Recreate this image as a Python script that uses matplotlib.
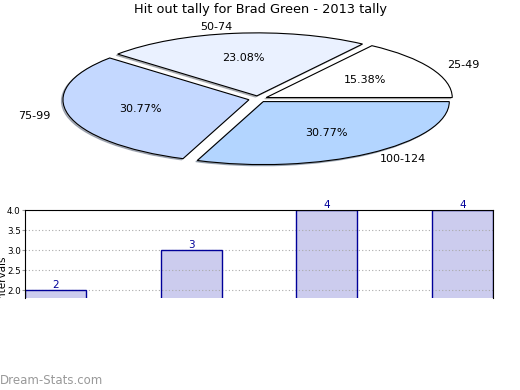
import matplotlib
matplotlib.use("Agg")
import matplotlib.pyplot as plt
from matplotlib.transforms import Bbox

title = "Hit out tally for Brad Green - 2013 tally"
intervals = ["25-49", "50-74", "75-99", "100-124"]
tally = [2, 3, 4, 4]
pie_colors = ["#ffffff", "#eaf1ff", "#c4d8ff", "#b3d5ff"]

W, H = 520, 390
fig = plt.figure(figsize=(W / 100, H / 100), dpi=100)

# pie: squashed ellipse, centre (258, 99) px, rx 186, ry 63
cx, cy, rx, ry = 258, 99, 186, 63
span = 1.4
ax_pie = fig.add_axes([
    (cx - rx * span) / W,
    1 - (cy + ry * span) / H,
    2 * rx * span / W,
    2 * ry * span / H,
])
wedges, texts, autotexts = ax_pie.pie(
    tally,
    labels=intervals,
    colors=pie_colors,
    explode=[0.05] * len(tally),
    autopct="%1.2f%%",
    pctdistance=0.6,
    labeldistance=1.1,
    startangle=0,
    shadow={"ox": -0.006, "oy": -0.014, "shade": 0.5},
    wedgeprops={"edgecolor": "black", "linewidth": 0.8},
    textprops={"fontsize": 8},
)
ax_pie.set_aspect("auto")
ax_pie.set_xlim(-span, span)
ax_pie.set_ylim(-span, span)
ax_pie.axis("off")

fig.text(0.5, 1 - 10 / H, title, ha="center", va="center", fontsize=9.3)

# bar chart, cut off at the bottom
ax_bar = fig.add_axes([25 / W, 1 - 298 / H, 468 / W, 88 / H])
x = range(len(tally))
ax_bar.bar(x, tally, width=0.45, color="#ccccee", linewidth=0, zorder=2)
ax_bar.bar(x, tally, width=0.45, fill=False, edgecolor="#000099", linewidth=1.0, zorder=3)
for i, v in enumerate(tally):
    ax_bar.text(i, v, str(v), ha="center", va="bottom", fontsize=7.5, color="#000099", zorder=6)
ax_bar.set_xlim(-0.225, len(tally) - 1 + 0.225)
ax_bar.set_ylim(1.8, 4.0)
ax_bar.set_yticks([2.0, 2.5, 3.0, 3.5, 4.0])
ax_bar.set_yticklabels(["2.0", "2.5", "3.0", "3.5", "4.0"])
ax_bar.tick_params(axis="y", labelsize=6.3, length=2, pad=1, colors="#999999", labelcolor="black")
ax_bar.tick_params(axis="x", bottom=False, labelbottom=False)
ax_bar.yaxis.grid(True, linestyle=(0, (1, 2)), color="#aaaaaa", linewidth=0.8)
ax_bar.set_axisbelow(False)
ax_bar.spines["bottom"].set_visible(False)
for s in ["top", "left", "right"]:
    ax_bar.spines[s].set_linewidth(0.8)
    ax_bar.spines[s].set_zorder(5)

ylab = fig.text(-3 / W, 1 - 278 / H, "Intervals", rotation=90, ha="left", va="center", fontsize=7.5)
ylab.set_clip_box(Bbox.from_extents(0, 92, W, H))

fig.text(0, 1 - 380 / H, "Dream-Stats.com", ha="left", va="center", fontsize=8.5, color="#999999")

fig.savefig("out.png", dpi=100)
